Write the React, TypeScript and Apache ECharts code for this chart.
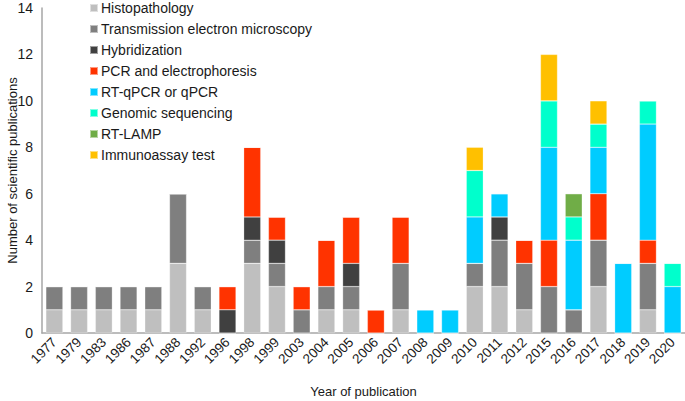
import React, { useEffect, useRef } from "react";
import * as echarts from "echarts";

const years = ["1977","1979","1983","1986","1987","1988","1992","1996","1998","1999","2003","2004","2005","2006","2007","2008","2009","2010","2011","2012","2015","2016","2017","2018","2019","2020"];

const seriesNames = ["Histopathology","Transmission electron microscopy","Hybridization","PCR and electrophoresis","RT-qPCR or qPCR","Genomic sequencing","RT-LAMP","Immunoassay test"];
const seriesColors = ["#BFBFBF","#7F7F7F","#404040","#FF3300","#00CCFF","#00FFCC","#70AD47","#FFC000"];

const histopathology = [1,1,1,1,1,3,1,0,3,2,0,1,1,0,1,0,0,2,2,1,0,0,2,0,1,0];
const tem =            [1,1,1,1,1,3,1,0,1,1,1,1,1,0,2,0,0,1,2,2,2,1,2,0,2,0];
const hybridization =  [0,0,0,0,0,0,0,1,1,1,0,0,1,0,0,0,0,0,1,0,0,0,0,0,0,0];
const pcr =            [0,0,0,0,0,0,0,1,3,1,1,2,2,1,2,0,0,0,0,1,2,0,2,0,1,0];
const rtqpcr =         [0,0,0,0,0,0,0,0,0,0,0,0,0,0,0,1,1,2,1,0,4,3,2,3,5,2];
const genomic =        [0,0,0,0,0,0,0,0,0,0,0,0,0,0,0,0,0,2,0,0,2,1,1,0,1,1];
const rtlamp =         [0,0,0,0,0,0,0,0,0,0,0,0,0,0,0,0,0,0,0,0,0,1,0,0,0,0];
const immunoassay =    [0,0,0,0,0,0,0,0,0,0,0,0,0,0,0,0,0,1,0,0,2,0,1,0,0,0];

const seriesData = [histopathology, tem, hybridization, pcr, rtqpcr, genomic, rtlamp, immunoassay];

const yTicks = [0, 2, 4, 6, 8, 10, 12, 14];

export default function App() {
  const ref = useRef<HTMLDivElement>(null);
  useEffect(() => {
    if (!ref.current) return;
    const chart = echarts.init(ref.current, null, { renderer: "svg" });
    const font = "Liberation Sans, Arial, sans-serif";
    chart.setOption({
      animation: false,
      textStyle: { fontFamily: font },
      legend: {
        orient: "vertical",
        left: 84,
        top: -4,
        itemWidth: 8,
        itemHeight: 8,
        itemGap: 7,
        icon: "rect",
        textStyle: { fontSize: 14, color: "#1a1a1a", fontFamily: font, padding: [0, 0, 0, -2] },
        data: seriesNames,
      },
      grid: { left: 42, right: 0, top: 8, bottom: 68, containLabel: false, outerBoundsMode: "none" },
      xAxis: {
        type: "category",
        data: years,
        name: "Year of publication",
        nameLocation: "middle",
        nameGap: 52,
        nameMoveOverlap: false,
        nameTextStyle: { fontSize: 13, color: "#1a1a1a" },
        axisLine: { lineStyle: { color: "#A6A6A6", width: 1.5 } },
        axisTick: { show: false },
        axisLabel: { rotate: 45, fontSize: 13.5, color: "#1a1a1a", margin: 7, interval: 0 },
      },
      yAxis: {
        type: "value",
        min: yTicks[0],
        max: yTicks[yTicks.length - 1],
        interval: 2,
        name: "Number of scientific publications",
        nameLocation: "middle",
        nameGap: 23,
        nameMoveOverlap: false,
        nameTextStyle: { fontSize: 13, color: "#1a1a1a" },
        axisLine: { show: true, lineStyle: { color: "#A6A6A6", width: 1.5 } },
        axisTick: { show: false },
        splitLine: { show: false },
        axisLabel: { fontSize: 14, color: "#1a1a1a", margin: 9 },
      },
      series: seriesNames.map((name, i) => ({
        name,
        type: "bar",
        stack: "total",
        barWidth: 17,
        data: seriesData[i],
        itemStyle: { color: seriesColors[i], borderColor: "rgba(255,255,255,0.5)", borderWidth: 0.5 },
      })),
    });
    return () => chart.dispose();
  }, []);
  return <div ref={ref} style={{ position: "absolute", left: 0, top: 0, width: 685, height: 401 }} />;
}
